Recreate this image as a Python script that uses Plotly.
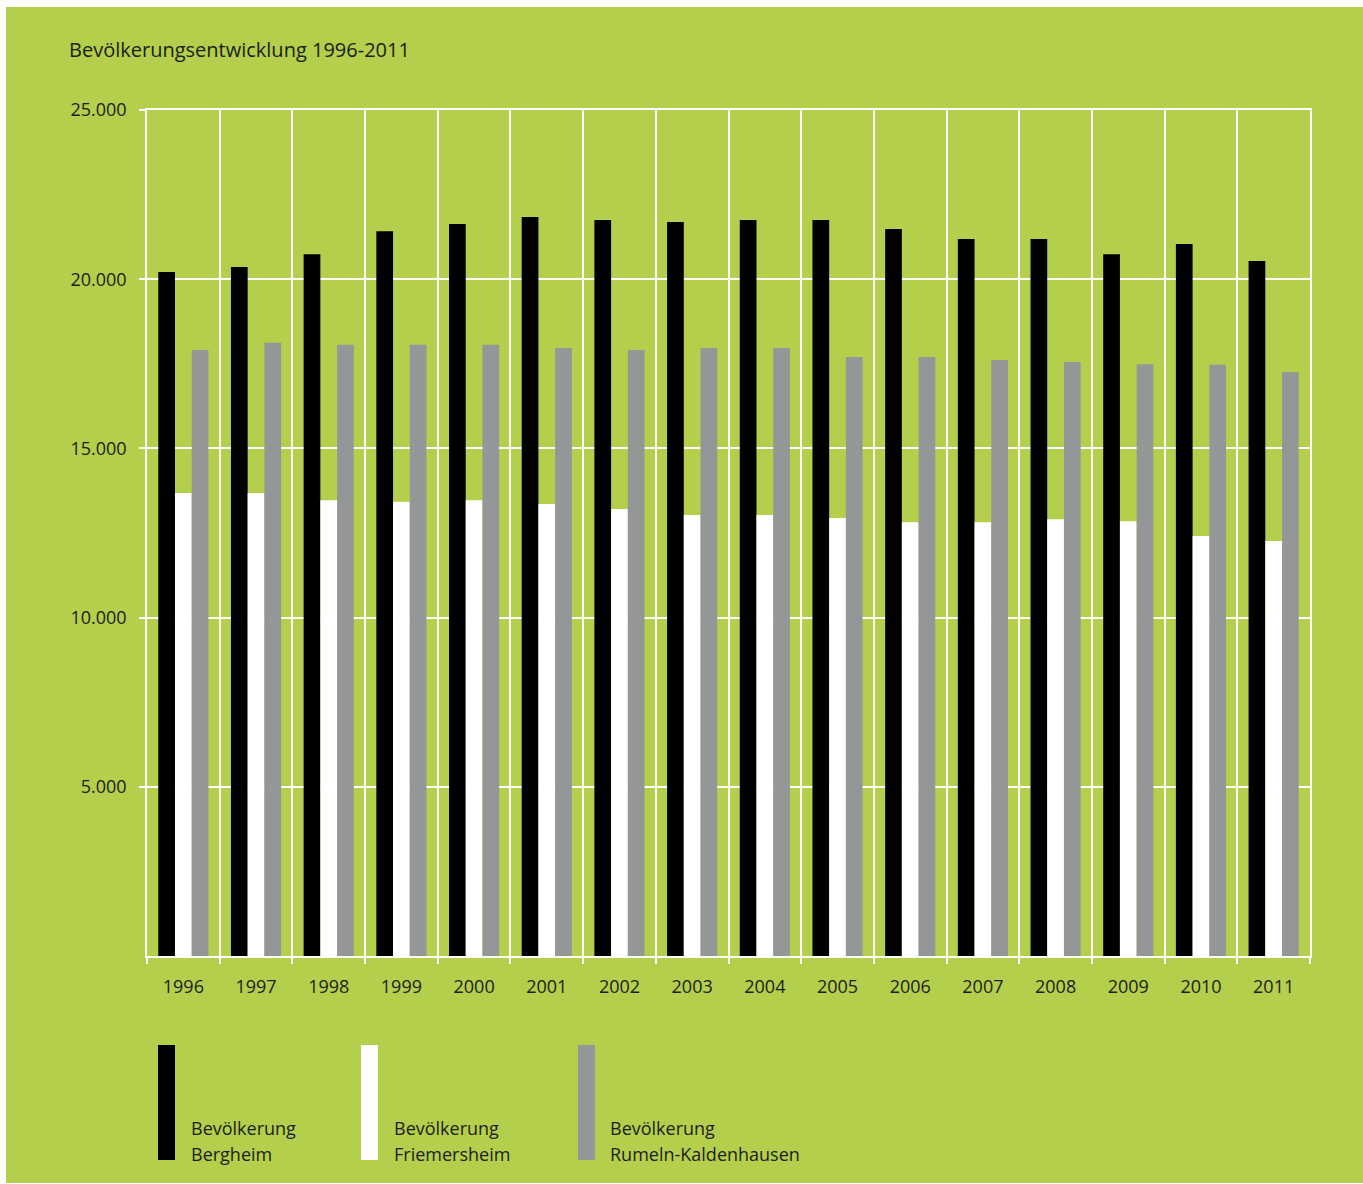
import plotly.graph_objects as go

# ---------------- data ----------------
title_text = "Bevölkerungsentwicklung 1996-2011"
years = ["1996", "1997", "1998", "1999", "2000", "2001", "2002", "2003",
         "2004", "2005", "2006", "2007", "2008", "2009", "2010", "2011"]
bergheim = [20210, 20360, 20740, 21420, 21630, 21840, 21750, 21690,
            21750, 21750, 21480, 21190, 21190, 20740, 21040, 20540]
friemersheim = [13680, 13680, 13470, 13420, 13470, 13360, 13210, 13030,
                13030, 12940, 12820, 12820, 12910, 12850, 12410, 12260]
rumeln = [17910, 18120, 18060, 18060, 18060, 17970, 17910, 17970,
          17970, 17700, 17700, 17610, 17550, 17490, 17470, 17260]
series_values = [bergheim, friemersheim, rumeln]
series_line1 = ["Bevölkerung", "Bevölkerung", "Bevölkerung"]
series_line2 = ["Bergheim", "Friemersheim", "Rumeln-Kaldenhausen"]
series_colors = ["#000000", "#FFFFFF", "#959698"]
ytick_vals = [5000, 10000, 15000, 20000, 25000]
ytick_text = ["5.000", "10.000", "15.000", "20.000", "25.000"]

# ---------------- layout helpers ----------------
W, H = 1363, 1184
L, R, T, B = 147, 53, 110, 228
PW, PH = W - L - R, H - T - B
GREEN = "#B3CF4B"
TXT = "#1D1D1B"
FONT = "Open Sans"


def px(x):
    return (x - L) / PW


def py(y):
    return (H - B - y) / PH


fig = go.Figure()
for vals, color, n1, n2 in zip(series_values, series_colors, series_line1, series_line2):
    fig.add_trace(go.Bar(x=years, y=vals, name=f"{n1} {n2}",
                         marker=dict(color=color, line=dict(width=0)),
                         showlegend=False))

shapes = [dict(type="rect", xref="paper", yref="paper", layer="below",
               x0=px(6), x1=px(W), y0=py(1183), y1=py(7),
               fillcolor=GREEN, line=dict(width=0))]
annotations = [dict(text=title_text, xref="paper", yref="paper",
                    x=px(67), y=py(49), xanchor="left", yanchor="middle",
                    showarrow=False, font=dict(family=FONT, size=20, color=TXT))]

legend_swatch_x = [158, 361, 578]
legend_text_x = [189, 392, 608]
for i, color in enumerate(series_colors):
    shapes.append(dict(type="rect", xref="paper", yref="paper", layer="above",
                       x0=px(legend_swatch_x[i]), x1=px(legend_swatch_x[i] + 17),
                       y0=py(1160), y1=py(1045),
                       fillcolor=color, line=dict(width=0)))
    annotations.append(dict(text=series_line1[i], xref="paper", yref="paper",
                            x=px(legend_text_x[i]), y=py(1128), xanchor="left", yanchor="middle",
                            showarrow=False, font=dict(family=FONT, size=18, color=TXT)))
    annotations.append(dict(text=series_line2[i], xref="paper", yref="paper",
                            x=px(legend_text_x[i]), y=py(1154), xanchor="left", yanchor="middle",
                            showarrow=False, font=dict(family=FONT, size=18, color=TXT)))

fig.update_layout(
    width=W, height=H,
    margin=dict(l=L, r=R, t=T, b=B, pad=0),
    paper_bgcolor="#FFFFFF",
    plot_bgcolor="rgba(0,0,0,0)",
    barmode="group",
    bargap=0.31,
    bargroupgap=0,
    shapes=shapes,
    annotations=annotations,
    font=dict(family=FONT, size=18, color=TXT),
    xaxis=dict(type="category", tickson="boundaries", ticks="outside", ticklen=6,
               tickwidth=1.5, tickcolor="#FFFFFF",
               showgrid=True, gridcolor="#FFFFFF", gridwidth=1.5,
               showline=True, linecolor="#FFFFFF", linewidth=1.5, mirror=True,
               tickfont=dict(family=FONT, size=18, color=TXT),
               ticklabelstandoff=14),
    yaxis=dict(range=[0, 25000], tickvals=ytick_vals, ticktext=ytick_text,
               ticks="outside", ticklen=6, tickwidth=1.5, tickcolor="#FFFFFF",
               showgrid=True, gridcolor="#FFFFFF", gridwidth=1.5,
               showline=True, linecolor="#FFFFFF", linewidth=1.5, mirror=True,
               zeroline=False,
               tickfont=dict(family=FONT, size=18, color=TXT),
               ticklabelstandoff=9),
)

fig.write_html("out.html")
